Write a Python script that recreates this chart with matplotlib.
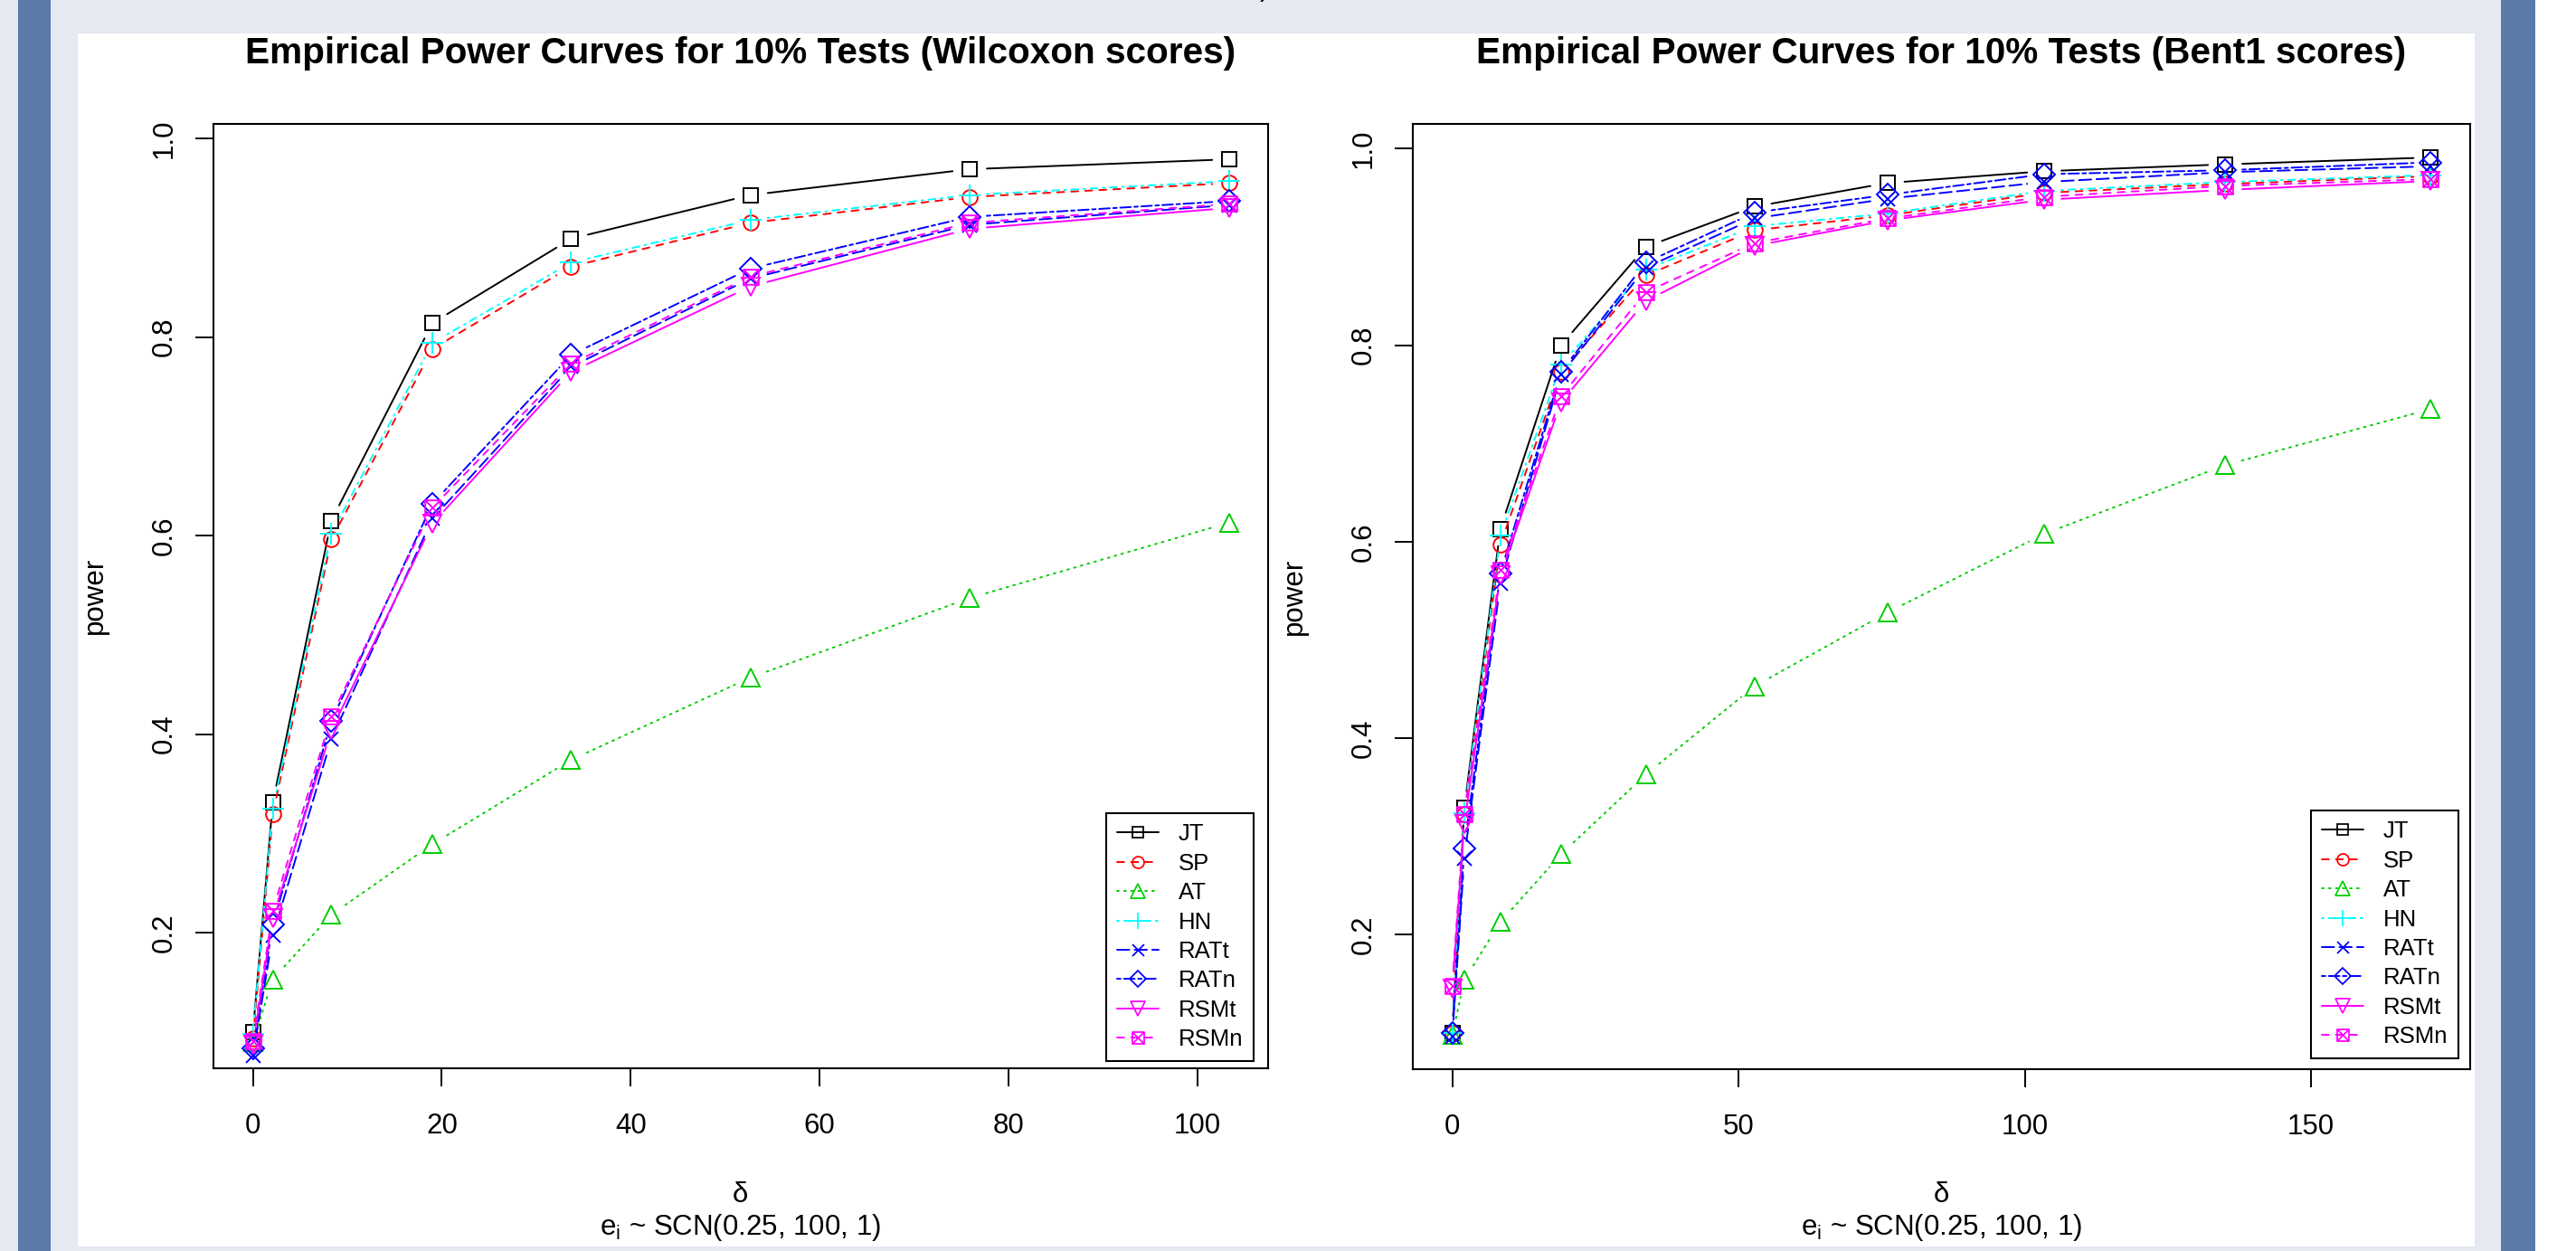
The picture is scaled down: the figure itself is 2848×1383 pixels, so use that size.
import numpy as np
import matplotlib
matplotlib.use("Agg")
import matplotlib.pyplot as plt
from matplotlib.lines import Line2D
from matplotlib.path import Path
from matplotlib.patches import Rectangle

# ---- data ----
tests = ["JT", "SP", "AT", "HN", "RATt", "RATn", "RSMt", "RSMn"]

delta_wil = [0, 2.1, 8.3, 19.0, 33.7, 52.7, 75.9, 103.4]
wil_JT = [0.100, 0.331, 0.615, 0.814, 0.899, 0.943, 0.969, 0.979]
wil_SP = [0.093, 0.319, 0.596, 0.788, 0.871, 0.915, 0.941, 0.955]
wil_AT = [0.090, 0.153, 0.218, 0.289, 0.374, 0.457, 0.537, 0.613]
wil_HN = [0.098, 0.325, 0.602, 0.794, 0.875, 0.918, 0.943, 0.957]
wil_RATt = [0.076, 0.197, 0.395, 0.617, 0.770, 0.859, 0.913, 0.933]
wil_RATn = [0.083, 0.208, 0.413, 0.632, 0.782, 0.869, 0.921, 0.937]
wil_RSMt = [0.087, 0.215, 0.404, 0.612, 0.765, 0.851, 0.909, 0.930]
wil_RSMn = [0.091, 0.222, 0.418, 0.628, 0.773, 0.861, 0.915, 0.934]

delta_bent = [0, 2.1, 8.4, 19.0, 33.8, 52.8, 76.0, 103.4, 135.0, 170.9]
bent_JT = [0.100, 0.329, 0.613, 0.800, 0.900, 0.941, 0.965, 0.977, 0.984, 0.991]
bent_SP = [0.100, 0.323, 0.597, 0.773, 0.871, 0.917, 0.932, 0.955, 0.964, 0.972]
bent_AT = [0.098, 0.154, 0.213, 0.282, 0.363, 0.453, 0.528, 0.608, 0.678, 0.735]
bent_HN = [0.100, 0.324, 0.606, 0.780, 0.877, 0.921, 0.934, 0.957, 0.966, 0.973]
bent_RATt = [0.096, 0.278, 0.558, 0.770, 0.879, 0.929, 0.949, 0.966, 0.976, 0.982]
bent_RATn = [0.100, 0.288, 0.568, 0.773, 0.884, 0.935, 0.953, 0.974, 0.978, 0.986]
bent_RSMt = [0.145, 0.313, 0.566, 0.742, 0.845, 0.901, 0.927, 0.948, 0.958, 0.967]
bent_RSMn = [0.148, 0.323, 0.571, 0.748, 0.854, 0.904, 0.929, 0.951, 0.962, 0.969]

wil_ticks_x = [0, 20, 40, 60, 80, 100]
bent_ticks_x = [0, 50, 100, 150]
ticks_y = [0.2, 0.4, 0.6, 0.8, 1.0]

# ---- R-like styling ----
W, H, DPI = 2848, 1383, 100
LW = 1.4
GAP = 19  # px gap around points (type = "b")
FONT = "Liberation Sans"
plt.rcParams["font.family"] = [FONT, "DejaVu Sans"]
plt.rcParams["mathtext.fontset"] = "custom"
plt.rcParams["mathtext.rm"] = FONT

colors = ["#000000", "#FF0000", "#00CD00", "#00FFFF", "#0000FF", "#0000FF", "#FF00FF", "#FF00FF"]
# R lty 1..6, then 1, 2
dash_styles = [None, (4, 4), (1, 3), (1, 3, 4, 3), (7, 3), (2, 2, 6, 2), None, (4, 4)]

boxx = Path(
    [(-1, -1), (1, -1), (1, 1), (-1, 1), (-1, -1), (-1, -1), (1, 1), (-1, 1), (1, -1)],
    [Path.MOVETO, Path.LINETO, Path.LINETO, Path.LINETO, Path.CLOSEPOLY,
     Path.MOVETO, Path.LINETO, Path.MOVETO, Path.LINETO],
)
markers = ["s", "o", "^", "+", "x", "D", "v", boxx]
msizes = [11.0, 12.0, 14.0, 17.0, 12.0, 12.0, 14.0, 12.0]


def px_rect(x0, y0, x1, y1):
    return [x0 / W, 1 - y1 / H, (x1 - x0) / W, (y1 - y0) / H]


def line_kw(dashes):
    if dashes is None:
        return dict(linestyle="-", solid_capstyle="round")
    return dict(linestyle=(0, dashes), dash_capstyle="round")


def draw_series(ax, x, y, color, dashes, marker, ms):
    pts = ax.transData.transform(np.column_stack([x, y]))
    inv = ax.transData.inverted()
    for p0, p1 in zip(pts[:-1], pts[1:]):
        d = np.hypot(*(p1 - p0))
        if d <= 2 * GAP:
            continue
        u = (p1 - p0) / d
        seg = inv.transform(np.array([p0 + u * GAP, p1 - u * GAP]))
        ax.plot(seg[:, 0], seg[:, 1], color=color, lw=LW, **line_kw(dashes))
    ax.plot(x, y, linestyle="none", marker=marker, ms=ms, mfc="none",
            mec=color, mew=LW)


def panel(fig, rect, xlim, ylim, xticks, delta, series, title, legend_anchor):
    ax = fig.add_axes(rect)
    ax.set_xlim(*xlim)
    ax.set_ylim(*ylim)
    for sp in ax.spines.values():
        sp.set_linewidth(1.5)
    ax.set_xticks(xticks)
    ax.set_yticks(ticks_y)
    ax.set_xticklabels([str(t) for t in xticks])
    ax.set_yticklabels([f"{t:.1f}" for t in ticks_y])
    ax.tick_params(direction="out", length=14.4, width=1.4, labelsize=22.5)
    ax.tick_params(axis="x", pad=21)
    ax.tick_params(axis="y", pad=14, labelrotation=90)
    for lab in ax.get_yticklabels():
        lab.set_va("center")

    for name, ys, c, ds, mk, ms in zip(tests, series, colors, dash_styles, markers, msizes):
        draw_series(ax, delta, ys, c, ds, mk, ms)

    handles = [
        Line2D([], [], color=c, lw=LW, marker=mk, ms=ms * 0.78, mfc="none", mew=LW * 0.9,
               **line_kw(ds))
        for c, ds, mk, ms in zip(colors, dash_styles, markers, msizes)
    ]
    leg = ax.legend(handles, tests, loc="lower right", bbox_to_anchor=legend_anchor,
                    borderaxespad=0, fontsize=18.5, frameon=True, fancybox=False,
                    edgecolor="black", framealpha=1, borderpad=0.45,
                    labelspacing=0.33, handlelength=1.8, handletextpad=0.85,
                    numpoints=1)
    leg.get_frame().set_linewidth(1.5)

    bb = ax.get_position()
    cx = (bb.x0 + bb.x1) / 2
    fig.text(cx, 1 - 59 / H, title, ha="center", va="center", fontsize=29.2,
             fontweight="bold")
    fig.text(bb.x0 - 131 / W, (bb.y0 + bb.y1) / 2, "power", rotation=90,
             ha="center", va="center", fontsize=22.5)
    fig.text(cx, 1 - 1321 / H, "δ", ha="center", va="center", fontsize=22.5)
    fig.text(cx, 1 - 1357 / H, r"$\mathregular{e_i}$ ~ SCN(0.25, 100, 1)",
             ha="center", va="center", fontsize=22.5)
    return ax


fig = plt.figure(figsize=(W / DPI, H / DPI), dpi=DPI)
fig.patch.set_facecolor("#E4E9F2")

# slide background pieces
for x0, y0, x1, y1, col in [
    (20, 0, 56, H, "#5B7BA8"),
    (86, 37, 2736, 1378, "white"),
    (2765, 0, 2803, H, "#5B7BA8"),
    (2803, 0, W, H, "white"),
]:
    r = px_rect(x0, y0, x1, y1)
    fig.patches.append(Rectangle((r[0], r[1]), r[2], r[3], transform=fig.transFigure,
                                 facecolor=col, edgecolor="none", zorder=-10))

# clipped fragment of a text line above the slide area (cut off in the reference too)
fig.text(1398 / W, 1 + 13 / H, ")", ha="center", va="center", fontsize=22)

wil_series = [wil_JT, wil_SP, wil_AT, wil_HN, wil_RATt, wil_RATn, wil_RSMt, wil_RSMn]
bent_series = [bent_JT, bent_SP, bent_AT, bent_HN, bent_RATt, bent_RATn, bent_RSMt, bent_RSMn]

panel(fig, px_rect(235.7, 136.7, 1402, 1181), (-4.21, 107.5), (0.0633, 1.0149),
      wil_ticks_x, delta_wil, wil_series,
      "Empirical Power Curves for 10% Tests (Wilcoxon scores)", (1 - 16 / 1166, 8 / 1044))
panel(fig, px_rect(1562, 136.7, 2731, 1182), (-6.89, 177.8), (0.0633, 1.0254),
      bent_ticks_x, delta_bent, bent_series,
      "Empirical Power Curves for 10% Tests (Bent1 scores)", (1 - 13 / 1169, 12 / 1045))

fig.savefig("out.png", dpi=DPI, facecolor=fig.get_facecolor())
